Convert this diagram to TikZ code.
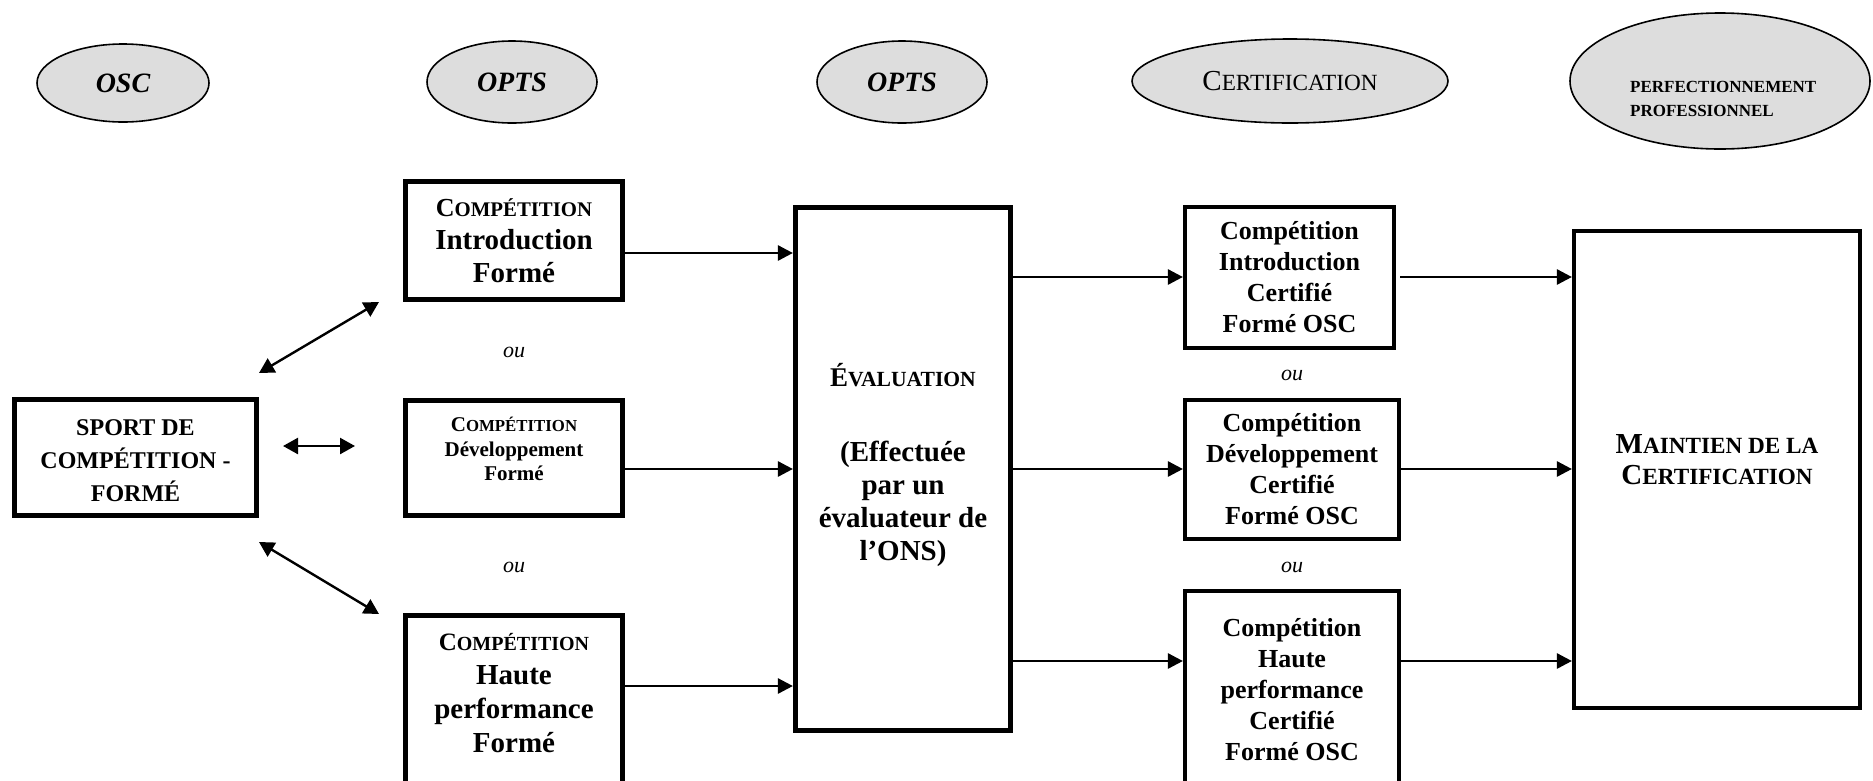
\documentclass[tikz,border=0pt]{standalone}
\usepackage{fontspec}
\setmainfont{Liberation Serif}
\usetikzlibrary{arrows.meta,shapes.geometric}
\definecolor{ovalgray}{HTML}{DDDDDD}
\makeatletter
\newcommand\smc[1]{{\fontsize{\fpeval{0.8*\f@size}}{\f@baselineskip}\selectfont #1}}
\makeatother
\newcommand\setfs[2]{\fontsize{#1}{#2}\selectfont}
\begin{document}
\begin{tikzpicture}[x=1pt,y=-1pt,
  oval/.style={ellipse, draw, fill=ovalgray, line width=1.6pt, inner sep=0pt},
  boxA/.style={draw, line width=5.2pt, inner sep=0pt, align=center},
  boxB/.style={draw, line width=4.2pt, inner sep=0pt, align=center},
  txt/.style={align=center, inner sep=0pt},
  tip/.tip={Triangle[length=15pt,width=15pt]},
  dtip/.tip={Triangle[length=15pt,width=16pt]},
  arr/.style={line width=2.7pt, -tip},
  darr/.style={line width=2.4pt, dtip-dtip},
  oulab/.style={font=\setfs{22}{26}\itshape, inner sep=0pt}]
\useasboundingbox (0,0) rectangle (1873,780);

% top ellipses
\node[oval, minimum width=172, minimum height=78, font=\setfs{28}{32}\bfseries\itshape] (osc) at (123,83) {OSC};
\node[oval, minimum width=170, minimum height=82, font=\setfs{28}{32}\bfseries\itshape] (opts1) at (512,82) {OPTS};
\node[oval, minimum width=170, minimum height=82, font=\setfs{28}{32}\bfseries\itshape] (opts2) at (902,82) {OPTS};
\node[oval, minimum width=316, minimum height=84, font=\setfs{29}{32}] (cert) at (1290,81) {C\smc{ERTIFICATION}};
\node[oval, minimum width=300, minimum height=136] (perf) at (1720,81) {};
\node[txt, anchor=west, align=left, font=\setfs{17}{24}\bfseries] (perft) at (1630,99) {PERFECTIONNEMENT\\PROFESSIONNEL};

% left box
\node[boxA, minimum width=242, minimum height=116] (sport) at (135.5,457.5) {};
\node[txt, font=\setfs{24}{33}\bfseries] (sportt) at (135.5,461) {SPORT DE\\COMPÉTITION -\\FORMÉ};

% competition boxes
\node[boxA, minimum width=217, minimum height=118, font=\setfs{29}{33}\bfseries] (ci) at (514,240.5)
  {{\setfs{26}{33}C\smc{OMPÉTITION}}\\Introduction\\Formé};
\node[boxA, minimum width=217, minimum height=115] (cd) at (514,458) {};
\node[txt, font=\setfs{21}{24.5}\bfseries] (cdt) at (514,449) {C\smc{OMPÉTITION}\\Développement\\Formé};
\node[boxA, minimum width=217, minimum height=185] (ch) at (514,707.75) {};
\node[txt, font=\setfs{29}{34}\bfseries] (cht) at (514,693) {{\setfs{25}{34}C\smc{OMPÉTITION}}\\Haute\\performance\\Formé};

\node[oulab] (ou1) at (514,352) {ou};
\node[oulab] (ou2) at (514,567) {ou};

% evaluation
\node[boxA, minimum width=215, minimum height=523] (ev) at (903,469) {};
\node[txt, font=\setfs{29}{33}\bfseries] (evt) at (903,465)
  {{\setfs{27}{33}É\smc{VALUATION}}\\[42pt](Effectuée\\par un\\évaluateur de\\l’ONS)};

% certified boxes
\node[boxB, minimum width=209, minimum height=141, font=\setfs{26}{31}\bfseries] (cc1) at (1289.5,277.5)
  {Compétition\\Introduction\\Certifié\\Formé OSC};
\node[boxB, minimum width=214, minimum height=139, font=\setfs{26}{31}\bfseries] (cc2) at (1292,469.5)
  {Compétition\\Développement\\Certifié\\Formé OSC};
\node[boxB, minimum width=214, minimum height=209] (cc3) at (1292,695.5) {};
\node[txt, font=\setfs{26}{31}\bfseries] (cc3t) at (1292,690) {Compétition\\Haute\\performance\\Certifié\\Formé OSC};

\node[oulab] (ou3) at (1292,375) {ou};
\node[oulab] (ou4) at (1292,567) {ou};

% maintien
\node[boxB, minimum width=286, minimum height=477] (mt) at (1717,469.5) {};
\node[txt, font=\setfs{29}{31}\bfseries] (mtt) at (1717,460) {M\smc{AINTIEN DE LA}\\C\smc{ERTIFICATION}};

% arrows into evaluation
\draw[arr] (ci.east |- 0,253) -- (ev.west |- 0,253);
\draw[arr] (cd.east |- 0,469) -- (ev.west |- 0,469);
\draw[arr] (ch.east |- 0,686) -- (ev.west |- 0,686);
% evaluation to certified
\draw[arr] (ev.east |- 0,277) -- (cc1.west |- 0,277);
\draw[arr] (ev.east |- 0,469) -- (cc2.west |- 0,469);
\draw[arr] (ev.east |- 0,661) -- (cc3.west |- 0,661);
% certified to maintien
\draw[arr, shorten <=4pt] (cc1.east |- 0,277) -- (mt.west |- 0,277);
\draw[arr] (cc2.east |- 0,469) -- (mt.west |- 0,469);
\draw[arr] (cc3.east |- 0,661) -- (mt.west |- 0,661);

% double arrows
\coordinate (u1) at (259,373);
\coordinate (u2) at (379,302);
\coordinate (h1) at (283,446);
\coordinate (h2) at (355,446);
\coordinate (l1) at (259,542);
\coordinate (l2) at (379,614);
\draw[darr] (u1) -- (u2);
\draw[darr] (h1) -- (h2);
\draw[darr] (l1) -- (l2);
\end{tikzpicture}
\end{document}
